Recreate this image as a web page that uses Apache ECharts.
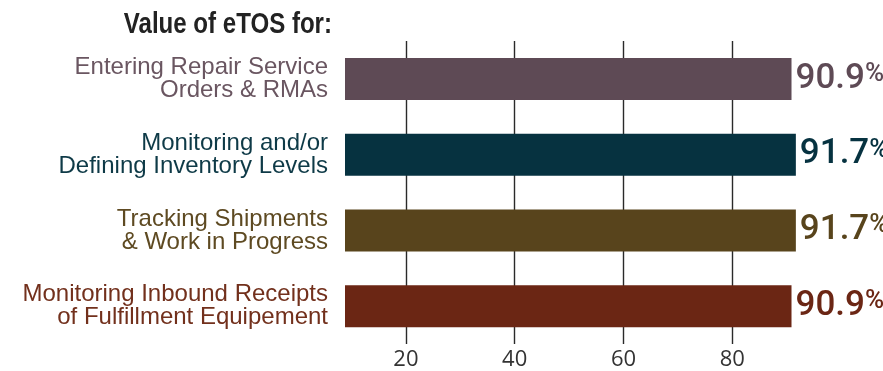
<!DOCTYPE html>
<html>
<head>
<meta charset="utf-8">
<script src="https://cdn.jsdelivr.net/npm/echarts@6/dist/echarts.min.js"></script>
<style>html,body{margin:0;padding:0;background:#fff}#c{width:883px;height:371px}</style>
</head>
<body>
<div id="c"></div>
<script>
const titleText = 'Value of eTOS for:';
const categories = [
  'Entering Repair Service\nOrders & RMAs',
  'Monitoring and/or\nDefining Inventory Levels',
  'Tracking Shipments\n& Work in Progress',
  'Monitoring Inbound Receipts\nof Fulfillment Equipement'
];
const values = [90.9, 91.7, 91.7, 90.9];
const barColors = ['#5e4a55', '#063240', '#58441c', '#6b2614'];
const labelColors = ['#6a5661', '#0e3a47', '#5e4a22', '#72301c'];
const tickValues = [20, 40, 60, 80];

const chart = echarts.init(document.getElementById('c'), null, {renderer: 'canvas'});
chart.setOption({
  animation: false,
  graphic: [{
    type: 'text', x: 332, y: 10, scaleX: 0.83,
    style: {
      text: titleText, textAlign: 'right', textVerticalAlign: 'top',
      fontFamily: '"Liberation Sans", sans-serif', fontWeight: 'bold', fontSize: 29, fill: '#222'
    }
  }],
  grid: {left: 345, right: 42, top: 41, height: 308},
  xAxis: {
    type: 'value', min: 8.8, max: 100,
    axisLine: {show: false},
    axisTick: {show: false},
    splitLine: {show: false},
    axisLabel: {customValues: tickValues, fontSize: 22, color: '#333', fontFamily: '"Open Sans", sans-serif', margin: 5}
  },
  yAxis: {
    type: 'category', inverse: true, data: categories,
    axisLine: {show: false}, axisTick: {show: false},
    axisLabel: {
      margin: 17, fontSize: 24, lineHeight: 23, fontFamily: '"Liberation Sans", sans-serif',
      color: (v, i) => labelColors[i]
    }
  },
  series: [
    {
      type: 'bar', data: [], z: 1, silent: true,
      markLine: {
        z: 0, silent: true, symbol: 'none', label: {show: false},
        lineStyle: {color: '#2a2a2a', width: 1.4, type: 'solid'},
        data: tickValues.map(v => ({xAxis: v}))
      }
    },
    {
      type: 'bar', z: 3, barWidth: 42, barGap: '-100%',
      data: values.map((v, i) => ({value: v, itemStyle: {color: barColors[i]},
        label: {color: barColors[i]}})),
      label: {
        show: true, position: 'right', distance: 4,
        formatter: p => '{a|' + p.value + '}{b|%}',
        rich: {
          a: {fontFamily: 'Roboto, sans-serif', fontWeight: 500, fontSize: 35},
          b: {fontFamily: 'Roboto, sans-serif', fontWeight: 500, fontSize: 26, verticalAlign: 'top', padding: [0,0,8,0]}
        }
      }
    }
  ]
});
</script>
</body>
</html>
